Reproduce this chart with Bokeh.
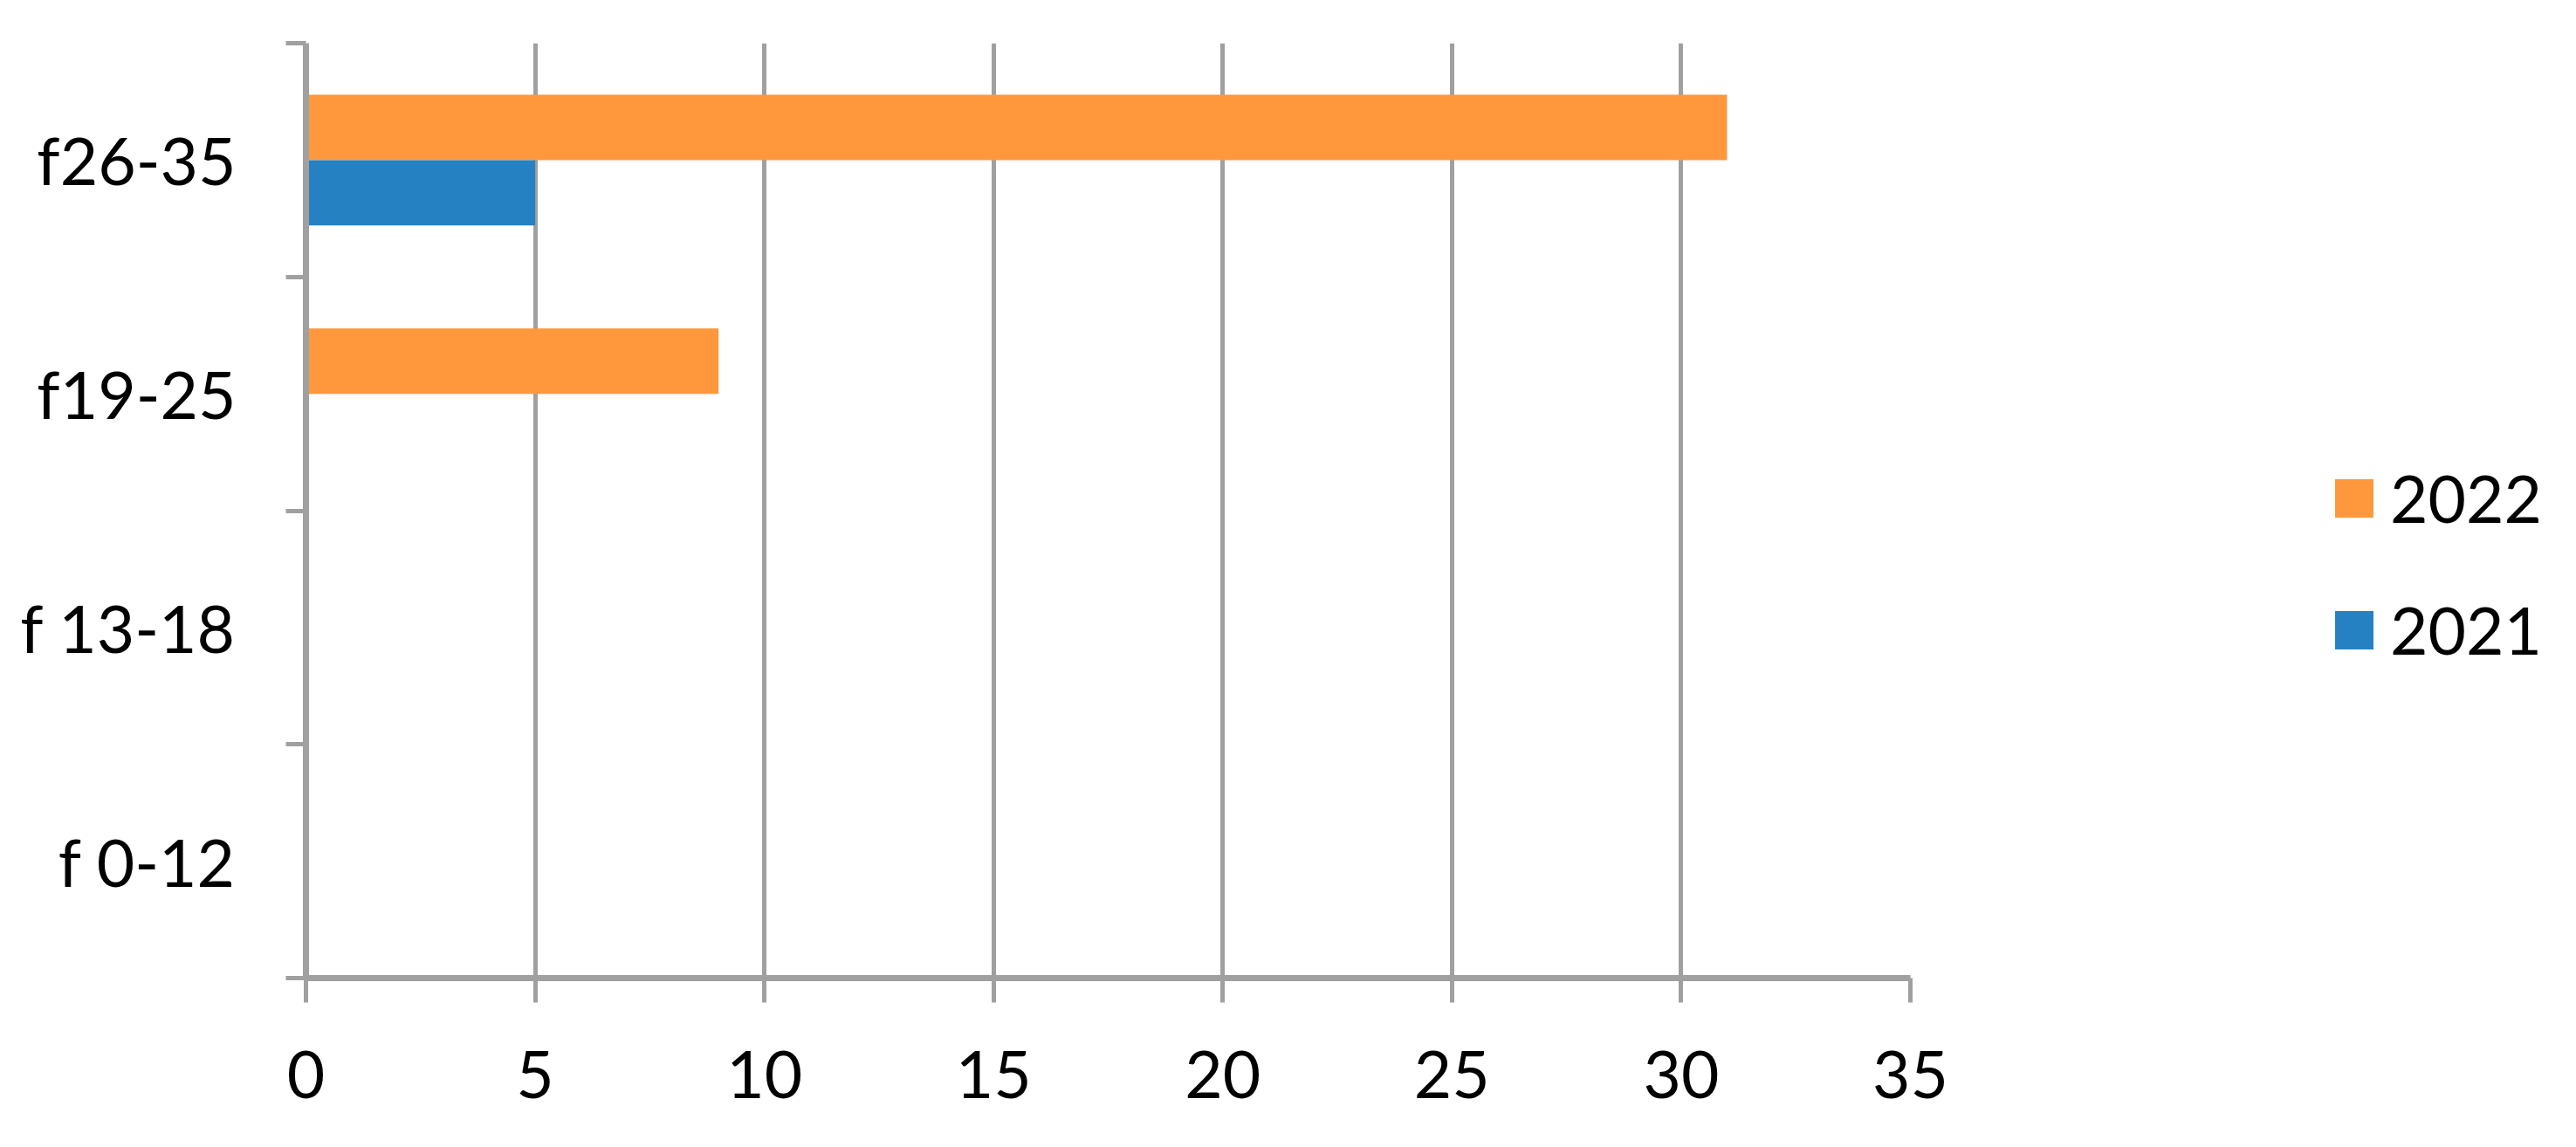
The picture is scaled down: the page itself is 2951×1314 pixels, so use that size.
from bokeh.plotting import figure
from bokeh.models import Range1d, FixedTicker, Legend, LegendItem, ColumnDataSource
from bokeh.transform import dodge
from bokeh.embed import file_html
from bokeh.resources import INLINE

# ---- data ----
categories = ["f 0-12", "f 13-18", "f19-25", "f26-35"]
values_2022 = [0, 0, 9, 31]
values_2021 = [0, 0, 0, 5]
x_ticks = [0, 5, 10, 15, 20, 25, 30, 35]

ORANGE = "#FF983D"
BLUE = "#2681C3"
GRID = "#A0A0A0"
FONT = "Lato"

positions = [i + 0.5 for i in range(len(categories))]
src = ColumnDataSource(dict(y=positions, v2022=values_2022, v2021=values_2021))

p = figure(width=2935, height=1298,
           x_range=Range1d(0, 35), y_range=Range1d(0, len(categories)),
           output_backend="svg", toolbar_location=None,
           min_border_left=350, min_border_right=747,
           min_border_top=49, min_border_bottom=178)
p.outline_line_color = None
p.background_fill_color = "white"
p.border_fill_color = "white"

r22 = p.hbar(y=dodge("y", 0.14, range=p.y_range), right="v2022", left=0, height=0.28,
             source=src, fill_color=ORANGE, line_color=None)
r21 = p.hbar(y=dodge("y", -0.14, range=p.y_range), right="v2021", left=0, height=0.28,
             source=src, fill_color=BLUE, line_color=None)

# x axis
xa = p.xaxis[0]
xa.ticker = FixedTicker(ticks=x_ticks)
xa.axis_line_color = GRID
xa.axis_line_width = 7
xa.major_tick_line_color = GRID
xa.major_tick_line_width = 5
xa.major_tick_in = 0
xa.major_tick_out = 28
xa.minor_tick_line_color = None
xa.major_label_text_font = FONT
xa.major_label_text_font_size = "75px"
xa.major_label_text_color = "black"
xa.major_label_standoff = 55

# y axis: labels at centres, ticks at boundaries
ya = p.yaxis[0]
ya.ticker = FixedTicker(ticks=positions, minor_ticks=list(range(len(categories) + 1)))
ya.major_label_overrides = {pos: c for pos, c in zip(positions, categories)}
ya.axis_line_color = GRID
ya.axis_line_width = 7
ya.major_tick_line_color = None
ya.major_tick_in = 0
ya.major_tick_out = 23
ya.minor_tick_line_color = GRID
ya.minor_tick_line_width = 5
ya.minor_tick_in = 0
ya.minor_tick_out = 23
ya.major_label_text_font = FONT
ya.major_label_text_font_size = "75px"
ya.major_label_text_color = "black"
ya.major_label_standoff = 57

p.xgrid.grid_line_color = GRID
p.xgrid.grid_line_width = 5
p.ygrid.grid_line_color = None

legend = Legend(items=[LegendItem(label="2022", renderers=[r22]),
                       LegendItem(label="2021", renderers=[r21])],
                location=(481, 354), orientation="vertical",
                glyph_width=55, glyph_height=55, label_height=44,
                label_standoff=14, spacing=61, padding=0, margin=0,
                label_text_font=FONT, label_text_font_size="75px",
                label_text_color="black",
                border_line_color=None, background_fill_alpha=0)
p.add_layout(legend, "right")

open("out.html", "w").write(file_html(p, INLINE))
